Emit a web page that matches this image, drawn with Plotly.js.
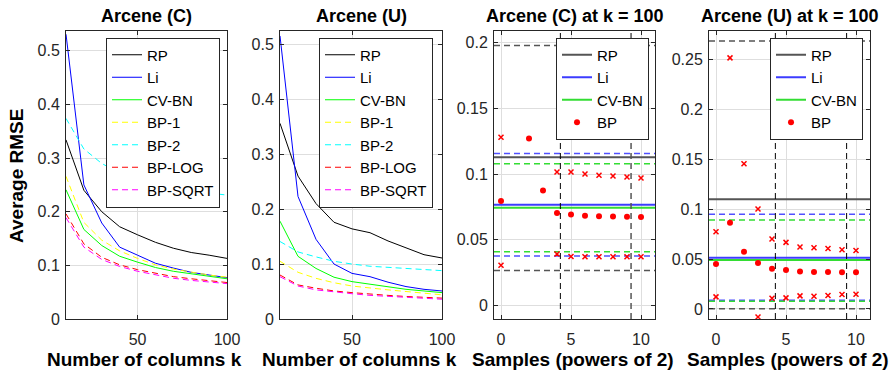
<!DOCTYPE html>
<html>
<head>
<meta charset="utf-8">
<script src="https://cdn.plot.ly/plotly-3.0.1.min.js"></script>
<style>html,body{margin:0;padding:0;background:#fff;}#chart{width:891px;height:374px;}</style>
</head>
<body>
<div id="chart"></div>
<script>
// ---- data ----
const kCols = [10, 20, 30, 40, 50, 60, 70, 80, 90, 100];
const seriesNames = ['RP', 'Li', 'CV-BN', 'BP-1', 'BP-2', 'BP-LOG', 'BP-SQRT'];

const arceneC_RP     = [0.334, 0.240, 0.200, 0.172, 0.157, 0.143, 0.132, 0.124, 0.119, 0.113];
const arceneC_Li     = [0.531, 0.250, 0.179, 0.134, 0.119, 0.104, 0.095, 0.087, 0.082, 0.077];
const arceneC_CVBN   = [0.241, 0.167, 0.137, 0.117, 0.106, 0.096, 0.089, 0.084, 0.079, 0.075];
const arceneC_BP1    = [0.266, 0.180, 0.147, 0.127, 0.113, 0.101, 0.093, 0.087, 0.082, 0.078];
const arceneC_BP2    = [0.374, 0.317, 0.290, 0.272, 0.260, 0.252, 0.245, 0.239, 0.235, 0.231];
const arceneC_BPLOG  = [0.196, 0.140, 0.115, 0.101, 0.092, 0.085, 0.079, 0.075, 0.071, 0.068];
const arceneC_BPSQRT = [0.189, 0.134, 0.111, 0.098, 0.089, 0.082, 0.076, 0.072, 0.069, 0.066];

const arceneU_RP     = [0.356, 0.260, 0.210, 0.176, 0.164, 0.157, 0.142, 0.130, 0.117, 0.111];
const arceneU_Li     = [0.515, 0.223, 0.145, 0.100, 0.083, 0.077, 0.067, 0.059, 0.054, 0.051];
const arceneU_CVBN   = [0.178, 0.114, 0.092, 0.076, 0.068, 0.063, 0.059, 0.054, 0.051, 0.048];
const arceneU_BP1    = [0.105, 0.085, 0.074, 0.066, 0.060, 0.056, 0.053, 0.050, 0.047, 0.044];
const arceneU_BP2    = [0.141, 0.122, 0.113, 0.105, 0.100, 0.096, 0.094, 0.092, 0.090, 0.088];
const arceneU_BPLOG  = [0.080, 0.062, 0.056, 0.051, 0.048, 0.045, 0.043, 0.041, 0.040, 0.038];
const arceneU_BPSQRT = [0.077, 0.060, 0.053, 0.049, 0.046, 0.043, 0.041, 0.039, 0.038, 0.036];

const samplesPow2 = [0, 1, 2, 3, 4, 5, 6, 7, 8, 9, 10];
// Arcene (C) at k = 100 : BP mean, mean+std, mean-std (null = off the plot)
const c100_BP_mean = [0.0794, null, 0.127, 0.0875, 0.0702, 0.0692, 0.0682, 0.0679, 0.0677, 0.0674, 0.0672];
const c100_BP_hi   = [0.128, null, null, null, 0.1015, 0.1015, 0.100, 0.099, 0.0985, 0.0977, 0.097];
const c100_BP_lo   = [0.0305, null, null, null, 0.039, 0.0371, 0.0369, 0.0369, 0.0369, 0.0369, 0.0369];
// reference levels [mean, upper, lower]
const c100_RP   = [0.1127, 0.198, 0.0264];
const c100_Li   = [0.0766, 0.1157, 0.0376];
const c100_CVBN = [0.0743, 0.1079, 0.0407];
const c100_vlines = [4.24, 9.29];

// Arcene (U) at k = 100
const u100_BP_mean = [0.045, 0.0866, 0.0574, 0.046, 0.0403, 0.039, 0.0376, 0.0372, 0.0372, 0.0369, 0.0369];
const u100_BP_hi   = [0.0775, 0.252, 0.1457, 0.1004, 0.0702, 0.0668, 0.0621, 0.0614, 0.0607, 0.0594, 0.0587];
const u100_BP_lo   = [0.0121, null, null, -0.008, 0.0108, 0.0111, 0.0131, 0.0128, 0.0134, 0.0144, 0.0148];
const u100_RP   = [0.110, 0.269, 0.0003];
const u100_Li   = [0.0514, 0.095, 0.0087];
const u100_CVBN = [0.049, 0.0893, 0.0077];
const u100_vlines = [4.24, 9.33];

// ---- styling ----
const FONT = 'Liberation Sans, Arial, Helvetica, sans-serif';
const AX = '#262626';
const GRID = '#dedede';
const W = 891, H = 374;
const px = v => v / W;
const py = v => 1 - v / H;

const lineStyles = [
  {color: '#000000', dash: 'solid'},
  {color: '#0000ff', dash: 'solid'},
  {color: '#00ff00', dash: 'solid'},
  {color: '#ffff00', dash: '6px,4px'},
  {color: '#00ffff', dash: '6px,4px'},
  {color: '#ff0000', dash: '6px,4px'},
  {color: '#ff00ff', dash: '6px,4px'}
];

const traces = [];
function addCurves(seriesList, xa, ya, lg) {
  seriesList.forEach((vals, i) => {
    traces.push({
      type: 'scatter', mode: 'lines', x: kCols, y: vals, name: seriesNames[i],
      xaxis: xa, yaxis: ya, legend: lg,
      line: {color: lineStyles[i].color, dash: lineStyles[i].dash, width: 1}
    });
  });
}
addCurves([arceneC_RP, arceneC_Li, arceneC_CVBN, arceneC_BP1, arceneC_BP2, arceneC_BPLOG, arceneC_BPSQRT], 'x', 'y', 'legend');
addCurves([arceneU_RP, arceneU_Li, arceneU_CVBN, arceneU_BP1, arceneU_BP2, arceneU_BPLOG, arceneU_BPSQRT], 'x2', 'y2', 'legend2');

const sampRange = [-0.5, 11];
function addLevels(levels, xa, ya, lg) {
  const defs = [
    {name: 'RP', vals: levels[0], color: '#555555', dcolor: '#555555'},
    {name: 'Li', vals: levels[1], color: '#3c3cff', dcolor: '#5050ff'},
    {name: 'CV-BN', vals: levels[2], color: '#33dd33', dcolor: '#33dd33'}
  ];
  defs.forEach(d => {
    [d.vals[1], d.vals[2]].forEach(v => {
      traces.push({type: 'scatter', mode: 'lines', x: sampRange, y: [v, v], xaxis: xa, yaxis: ya,
        showlegend: false, hoverinfo: 'skip', line: {color: d.dcolor, width: 1.5, dash: '6px,4px'}});
    });
  });
  defs.forEach(d => {
    traces.push({type: 'scatter', mode: 'lines', x: sampRange, y: [d.vals[0], d.vals[0]], name: d.name,
      xaxis: xa, yaxis: ya, legend: lg, line: {color: d.color, width: 2}});
  });
}
function addBP(mean, hi, lo, xa, ya, lg) {
  [hi, lo].forEach(arr => {
    traces.push({type: 'scatter', mode: 'markers', x: samplesPow2, y: arr, xaxis: xa, yaxis: ya,
      showlegend: false, marker: {symbol: 'x-thin', size: 5, color: '#ff0000', line: {color: '#ff0000', width: 1.5}}});
  });
  traces.push({type: 'scatter', mode: 'markers', x: samplesPow2, y: mean, name: 'BP', xaxis: xa, yaxis: ya,
    legend: lg, marker: {symbol: 'circle', size: 6, color: '#ff0000'}});
}
addLevels([c100_RP, c100_Li, c100_CVBN], 'x3', 'y3', 'legend3');
addBP(c100_BP_mean, c100_BP_hi, c100_BP_lo, 'x3', 'y3', 'legend3');
addLevels([u100_RP, u100_Li, u100_CVBN], 'x4', 'y4', 'legend4');
addBP(u100_BP_mean, u100_BP_hi, u100_BP_lo, 'x4', 'y4', 'legend4');

// ---- layout ----
const plotTop = 31, plotBot = 319;
const yDom = [py(plotBot), py(plotTop)];
const panels = [
  {l: 66, r: 227}, {l: 280, r: 442}, {l: 494, r: 655}, {l: 709, r: 870}
];
function xAxis(p, extra) {
  return Object.assign({
    domain: [px(p.l), px(p.r)], showline: true, linecolor: AX, linewidth: 1, mirror: 'ticks',
    ticks: 'inside', ticklen: 4, tickcolor: AX, showgrid: true, gridcolor: GRID, zeroline: false,
    tickfont: {family: FONT, size: 16, color: AX}, ticklabelstandoff: 6
  }, extra);
}
function yAxis(extra) {
  return Object.assign({
    domain: yDom, showline: true, linecolor: AX, linewidth: 1, mirror: 'ticks',
    ticks: 'inside', ticklen: 4, tickcolor: AX, showgrid: true, gridcolor: GRID, zeroline: false,
    tickfont: {family: FONT, size: 16, color: AX}, ticklabelstandoff: 2
  }, extra);
}
function legendAt(rightPx) {
  return {x: px(rightPx), xanchor: 'right', y: py(37.5), yanchor: 'top', bgcolor: '#ffffff',
    bordercolor: AX, borderwidth: 1, font: {family: FONT, size: 15, color: '#000'},
    tracegroupgap: 0, itemwidth: 30};
}

const titles = ['Arcene (C)', 'Arcene (U)', 'Arcene (C) at k = 100', 'Arcene (U) at k = 100'];
const xlabels = ['Number of columns k', 'Number of columns k', 'Samples (powers of 2)', 'Samples (powers of 2)'];
const annotations = [];
panels.forEach((p, i) => {
  annotations.push({text: '<b>' + titles[i] + '</b>', xref: 'paper', yref: 'paper', x: px((p.l + p.r) / 2), y: py(16),
    xanchor: 'center', yanchor: 'middle', showarrow: false, font: {family: FONT, size: 18, color: '#000'}});
  annotations.push({text: '<b>' + xlabels[i] + '</b>', xref: 'paper', yref: 'paper', x: px((p.l + p.r) / 2 - 2), y: py(359),
    xanchor: 'center', yanchor: 'middle', showarrow: false, font: {family: FONT, size: 19, color: '#000'}});
});
annotations.push({text: '<b>Average RMSE</b>', xref: 'paper', yref: 'paper', x: px(16), y: py(176),
  xanchor: 'center', yanchor: 'middle', textangle: -90, showarrow: false, font: {family: FONT, size: 19, color: '#000'}});

const shapes = [];
c100_vlines.forEach((v, i) => shapes.push({type: 'line', xref: 'x3', yref: 'y3 domain', x0: v, x1: v, y0: 0, y1: 1,
  line: {color: i === 0 ? '#000000' : '#555555', width: i === 0 ? 1 : 1.5, dash: '6px,4px'}}));
u100_vlines.forEach(v => shapes.push({type: 'line', xref: 'x4', yref: 'y4 domain', x0: v, x1: v, y0: 0, y1: 1,
  line: {color: '#000000', width: 1, dash: '6px,4px'}}));

const layout = {
  width: W, height: H, margin: {l: 0, r: 0, t: 0, b: 0}, paper_bgcolor: '#fff', plot_bgcolor: '#fff',
  font: {family: FONT, size: 16, color: AX}, showlegend: true,
  xaxis: xAxis(panels[0], {anchor: 'y', range: [10, 100], tickvals: [50, 100]}),
  yaxis: yAxis({anchor: 'x', range: [0, 0.537], dtick: 0.1}),
  xaxis2: xAxis(panels[1], {anchor: 'y2', range: [10, 100], tickvals: [50, 100]}),
  yaxis2: yAxis({anchor: 'x2', range: [0, 0.524], dtick: 0.1}),
  xaxis3: xAxis(panels[2], {anchor: 'y3', range: sampRange, tickvals: [0, 5, 10]}),
  yaxis3: yAxis({anchor: 'x3', range: [-0.0105, 0.209], dtick: 0.05}),
  xaxis4: xAxis(panels[3], {anchor: 'y4', range: sampRange, tickvals: [0, 5, 10]}),
  yaxis4: yAxis({anchor: 'x4', range: [-0.0101, 0.279], dtick: 0.05}),
  legend: legendAt(220), legend2: legendAt(433), legend3: legendAt(649), legend4: legendAt(863),
  annotations: annotations, shapes: shapes
};

Plotly.newPlot('chart', traces, layout, {displayModeBar: false, staticPlot: true});
</script>
</body>
</html>
